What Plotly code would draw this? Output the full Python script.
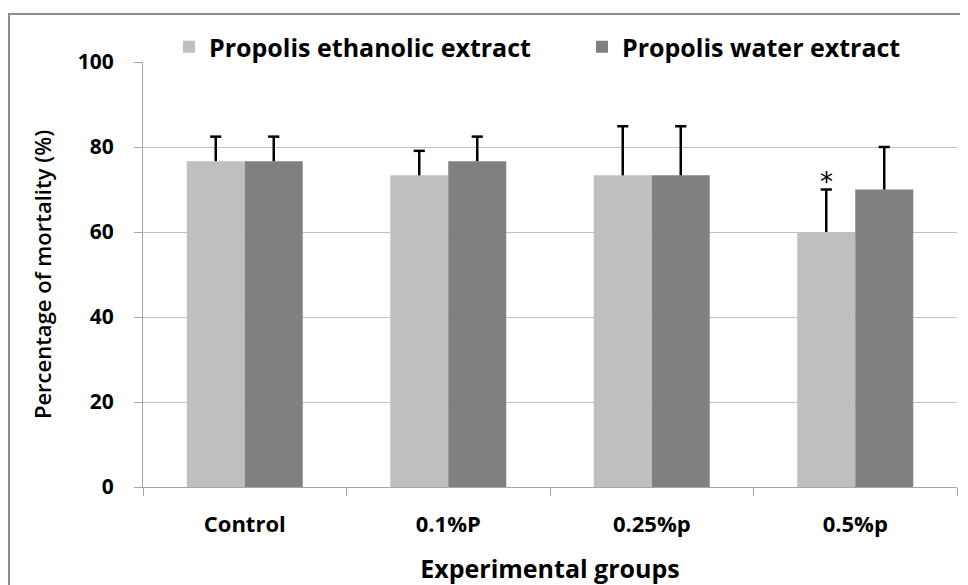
import plotly.graph_objects as go

groups = ["Control", "0.1%P", "0.25%p", "0.5%p"]
ethanolic = [76.67, 73.33, 73.33, 60.0]
ethanolic_err = [5.77, 5.77, 11.55, 10.0]
water = [76.67, 76.67, 73.33, 70.0]
water_err = [5.77, 5.77, 11.55, 10.0]
series_names = ["Propolis ethanolic extract", "Propolis water extract"]

FONT = "Open Sans, sans-serif"
BARGAP = 0.43
half = (1 - BARGAP) / 4  # offset of each bar's centre from the category centre

fig = go.Figure()
for vals, errs, name, color, leg, sign in [
    (ethanolic, ethanolic_err, series_names[0], "#bfbfbf", "legend", -1),
    (water, water_err, series_names[1], "#808080", "legend2", 1),
]:
    fig.add_trace(go.Bar(
        x=groups, y=vals, name=name, legend=leg,
        marker=dict(color=color, line=dict(width=0)),
        error_y=dict(type="data", symmetric=False, array=errs, arrayminus=[0]*len(vals),
                     color="black", thickness=2.5, width=0),
    ))
    # caps only at the top end of each error bar
    fig.add_trace(go.Scatter(
        x=[i + sign * half for i in range(len(groups))],
        y=[v + e for v, e in zip(vals, errs)],
        mode="markers", showlegend=False, hoverinfo="skip", xaxis="x2",
        marker=dict(symbol="line-ew", size=8, color="black",
                    line=dict(width=2.5, color="black")),
    ))

# significance marker above 0.5%p ethanolic bar
fig.add_annotation(x=3 - half, y=ethanolic[3] + ethanolic_err[3], xref="x2", yref="y",
                   text="*", showarrow=False, yanchor="bottom", yshift=-9,
                   font=dict(size=26, color="black", family="DejaVu Sans"))

# page has an 8px body margin; positions below are in page pixels
OFF = 8
pl, pr, pt, pb = 143, 957, 62, 487
W, H = pr - pl, pb - pt
def px(x): return (x - pl) / W
def py(y): return (pb - y) / H

fig.add_shape(type="rect", xref="paper", yref="paper",
              x0=px(9), x1=px(985), y0=py(600), y1=py(14),
              line=dict(color="#8c8c8c", width=2), fillcolor="rgba(0,0,0,0)", layer="below")

legend_font = dict(size=25, family=FONT, color="black", weight="bold")
FW, FH = 968 - OFF, 585 - OFF
fig.update_layout(
    width=FW, height=FH,
    margin=dict(l=pl - OFF, r=FW - (pr - OFF), t=pt - OFF, b=FH - (pb - OFF), autoexpand=False),
    paper_bgcolor="white", plot_bgcolor="white",
    barmode="group", bargap=BARGAP, bargroupgap=0,
    font=dict(family=FONT, color="black"),
    showlegend=True,
    legend=dict(orientation="h", x=px(169), y=py(47), xanchor="left", yanchor="middle",
                font=legend_font, itemwidth=30, bgcolor="rgba(0,0,0,0)"),
    legend2=dict(orientation="h", x=px(582), y=py(47), xanchor="left", yanchor="middle",
                 font=legend_font, itemwidth=30, bgcolor="rgba(0,0,0,0)"),
    xaxis=dict(
        type="category", showline=True, linecolor="#a6a6a6", linewidth=1,
        ticks="outside", tickson="boundaries", ticklen=8, tickcolor="#a6a6a6",
        tickfont=dict(size=22, family=FONT, weight="bold"), ticklabelstandoff=18,
        title=dict(text="Experimental groups", font=dict(size=25, family=FONT, weight="bold"), standoff=24),
        showgrid=False, automargin=False, range=[-0.5, len(groups) - 0.5],
    ),
    xaxis2=dict(overlaying="x", range=[-0.5, len(groups) - 0.5], visible=False),
    yaxis=dict(
        range=[0, 100], dtick=20, showline=True, linecolor="#a6a6a6", linewidth=1,
        ticks="outside", ticklen=8, tickcolor="#a6a6a6",
        showgrid=True, gridcolor="#c0c0c0", gridwidth=1, zeroline=False,
        tickfont=dict(size=21, family=FONT, weight="bold"), ticklabelstandoff=16,
        title=dict(text="Percentage of mortality (%)", font=dict(size=22, family=FONT, weight=600), standoff=20),
        automargin=False,
    ),
)

fig.write_html("out.html")
